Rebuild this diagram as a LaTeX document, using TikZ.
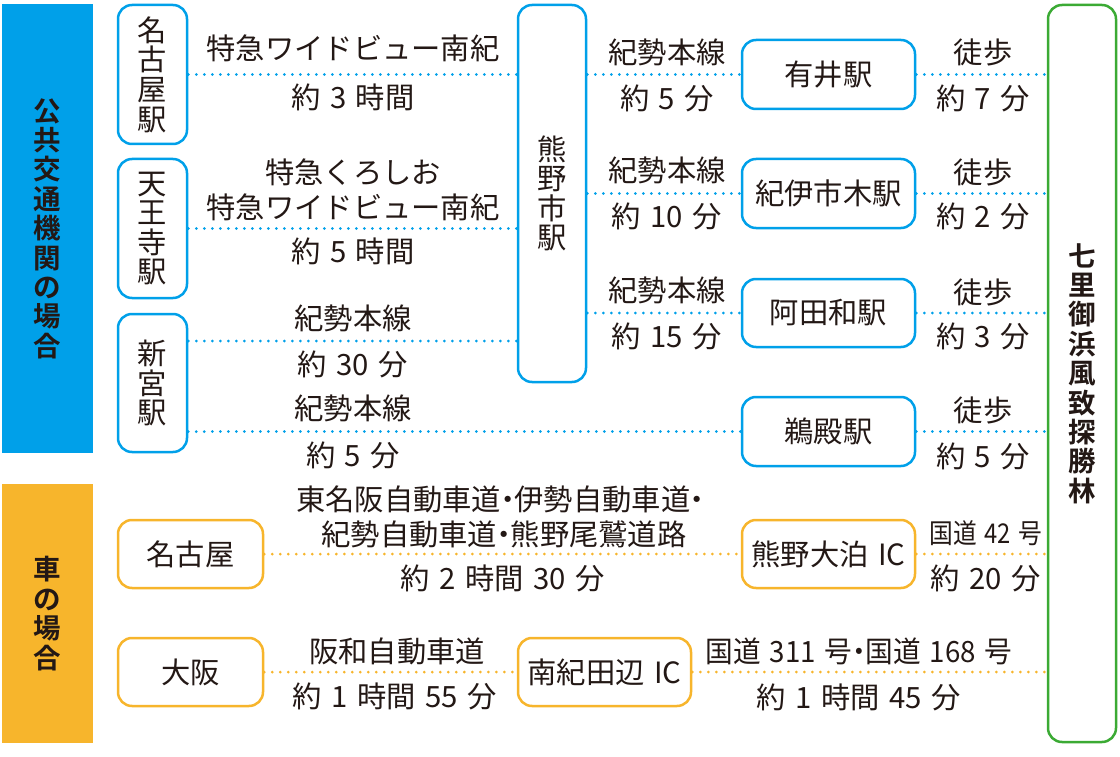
\documentclass[tikz,border=0pt]{standalone}
\usepackage{fontspec}
\setmainfont{Noto Sans CJK JP}[BoldFont={Noto Sans CJK JP Bold}, WordSpace=1.45]
\definecolor{cblue}{HTML}{00A0E9}
\definecolor{corange}{HTML}{F7B52C}
\definecolor{cgreen}{HTML}{3BAA34}
\definecolor{ink}{HTML}{231815}
\newcommand{\nd}{\hspace{-0.27em}・\hspace{-0.27em}}
\begin{document}
\begin{tikzpicture}[x=1pt,y=-1pt,
  every node/.style={text=ink, font=\fontsize{29.3}{29.6}\selectfont},
  bar/.style={inner sep=0pt, align=center, font=\fontsize{27.5}{29.4}\selectfont\bfseries},
  bbox/.style={draw=cblue, line width=2.5pt, rounded corners=14pt, fill=white, inner sep=0pt, align=center},
  obox/.style={draw=corange, line width=2.5pt, rounded corners=14pt, fill=white, inner sep=0pt, align=center},
  gbox/.style={draw=cgreen, line width=2.5pt, rounded corners=14pt, fill=white, inner sep=0pt, align=center},
  lbl/.style={inner sep=0pt, anchor=center},
  dotb/.style={cblue, line width=3pt, line cap=round, dash pattern=on 0pt off 8pt},
  doto/.style={corange, line width=3pt, line cap=round, dash pattern=on 0pt off 8pt}
]
\useasboundingbox (0,0) rectangle (1120,757);

% side bars
\node[bar, fill=cblue, minimum width=91pt, minimum height=449pt] (pub) at (47.5,228.5)
  {公\\共\\交\\通\\機\\関\\の\\場\\合};
\node[bar, fill=corange, minimum width=91pt, minimum height=259pt] (car) at (47.5,613.5)
  {車\\の\\場\\合};

% stations
\node[bbox, minimum width=69pt, minimum height=139pt] (nagoyaS) at (152.5,74.5) {名\\古\\屋\\駅};
\node[bbox, minimum width=69pt, minimum height=139pt] (tennoji) at (152.5,228.5) {天\\王\\寺\\駅};
\node[bbox, minimum width=69pt, minimum height=138pt] (shingu) at (152.5,383) {新\\宮\\駅};
\node[bbox, minimum width=68pt, minimum height=377pt] (kumanoS) at (552,193.5) {熊\\野\\市\\駅};
\node[bbox, minimum width=173pt, minimum height=69pt] (arii) at (828.5,74.5) {有井駅};
\node[bbox, minimum width=173pt, minimum height=69pt] (kiiichiki) at (828.5,193.5) {紀伊市木駅};
\node[bbox, minimum width=173pt, minimum height=68pt] (atawa) at (828.5,313) {阿田和駅};
\node[bbox, minimum width=173pt, minimum height=69pt] (udono) at (828.5,431.5) {鵜殿駅};
\node[gbox, minimum width=68pt, minimum height=737pt, font=\fontsize{27.5}{29.4}\selectfont\bfseries] (green) at (1082,373.5)
  {七\\里\\御\\浜\\風\\致\\探\\勝\\林};

% car nodes
\node[obox, minimum width=145pt, minimum height=68pt] (nagoyaC) at (190.5,554) {名古屋};
\node[obox, minimum width=145pt, minimum height=68pt] (osaka) at (190.5,672) {大阪};
\node[obox, minimum width=173pt, minimum height=68pt] (oodomari) at (828.5,554) {熊野大泊 IC};
\node[obox, minimum width=173pt, minimum height=68pt] (tanabe) at (604.5,672) {南紀田辺 IC};

% blue connectors
\coordinate (s1) at (0,341);
\draw[dotb] (nagoyaS.east) -- (kumanoS.west |- nagoyaS.east);
\draw[dotb] (tennoji.east) -- (kumanoS.west |- tennoji.east);
\draw[dotb] (shingu.east |- s1) -- (kumanoS.west |- s1);
\draw[dotb] (shingu.east |- udono.west) -- (udono.west);
\draw[dotb] (kumanoS.east |- arii.west) -- (arii.west);
\draw[dotb] (kumanoS.east |- kiiichiki.west) -- (kiiichiki.west);
\draw[dotb] (kumanoS.east |- atawa.west) -- (atawa.west);
\draw[dotb] (arii.east) -- (green.west |- arii.east);
\draw[dotb] (kiiichiki.east) -- (green.west |- kiiichiki.east);
\draw[dotb] (atawa.east) -- (green.west |- atawa.east);
\draw[dotb] (udono.east) -- (green.west |- udono.east);
% orange connectors
\draw[doto] (nagoyaC.east) -- (oodomari.west);
\draw[doto] (oodomari.east) -- (green.west |- oodomari.east);
\draw[doto] (osaka.east) -- (tanabe.west);
\draw[doto] (tanabe.east) -- (green.west |- tanabe.east);

% labels
\node[lbl] (l1a) at (353,48) {特急ワイドビュー南紀};
\node[lbl] (l1b) at (353,97) {約 3 時間};
\node[lbl] (l2a) at (353,172) {特急くろしお};
\node[lbl] (l2b) at (353,207) {特急ワイドビュー南紀};
\node[lbl] (l2c) at (353,251) {約 5 時間};
\node[lbl] (l3a) at (353,318) {紀勢本線};
\node[lbl] (l3b) at (353,364) {約 30 分};
\node[lbl] (l4a) at (353,408) {紀勢本線};
\node[lbl] (l4b) at (353,455) {約 5 分};
\node[lbl] (r1a) at (667,52) {紀勢本線};
\node[lbl] (r1b) at (667,98) {約 5 分};
\node[lbl] (r2a) at (667,170) {紀勢本線};
\node[lbl] (r2b) at (667,216) {約 10 分};
\node[lbl] (r3a) at (667,290) {紀勢本線};
\node[lbl] (r3b) at (667,336) {約 15 分};
\node[lbl] (w1a) at (983,52) {徒歩};
\node[lbl] (w1b) at (983,98) {約 7 分};
\node[lbl] (w2a) at (983,172) {徒歩};
\node[lbl] (w2b) at (983,216) {約 2 分};
\node[lbl] (w3a) at (983,292) {徒歩};
\node[lbl] (w3b) at (983,336) {約 3 分};
\node[lbl] (w4a) at (983,410) {徒歩};
\node[lbl] (w4b) at (983,456) {約 5 分};
\node[lbl] (c1a) at (504,499) {東名阪自動車道\nd 伊勢自動車道\nd};
\node[lbl] (c1b) at (504,534) {紀勢自動車道\nd 熊野尾鷲道路};
\node[lbl] (c1c) at (503,578) {約 2 時間 30 分};
\node[lbl] (c2a) at (986,533) {\scalebox{0.81}[0.93]{国道 42 号}};
\node[lbl] (c2b) at (986,578) {約 20 分};
\node[lbl] (c3a) at (397,651) {阪和自動車道};
\node[lbl] (c3b) at (395,696) {約 1 時間 55 分};
\node[lbl] (c4a) at (859,651) {\scalebox{0.945}[1]{国道 311 号\nd 国道 168 号}};
\node[lbl] (c4b) at (859,697) {約 1 時間 45 分};
\end{tikzpicture}
\end{document}
